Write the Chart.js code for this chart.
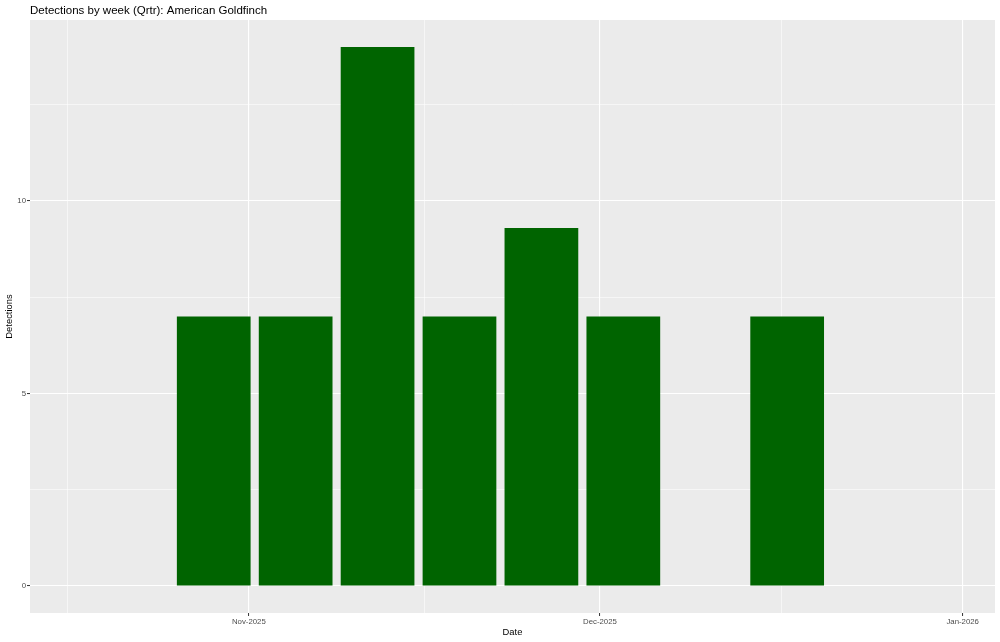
<!DOCTYPE html>
<html>
<head>
<meta charset="utf-8">
<script src="https://cdn.jsdelivr.net/npm/chart.js@4/dist/chart.umd.min.js"></script>
<style>
  html, body { margin: 0; padding: 0; background: #fff; }
  #wrap { width: 1000px; height: 642px; }
</style>
</head>
<body>
<div id="wrap"><canvas id="myChart"></canvas></div>
<script>
// weekly detections
const weeks = ["2025-10-29", "2025-11-05", "2025-11-12", "2025-11-19", "2025-11-26", "2025-12-03", "2025-12-17"];
const detections = [7, 7, 14, 7, 9.3, 7, 7];

// axis ticks
const xTickDates = ["2025-11-01", "2025-12-01", "2026-01-01"];
const xTickLabels = ["Nov-2025", "Dec-2025", "Jan-2026"];
const yTicks = [0, 5, 10];

const origin = Date.parse("2025-11-01");
function day(s) {
  return (Date.parse(s) - origin) / 86400000;
}

const xMajor = xTickDates.map(day);
// minor lines half way between month breaks (Oct 1 .. Feb 1)
const monthEdges = [day("2025-10-01")].concat(xMajor, [day("2026-02-01")]);
const xMinor = [];
for (let i = 0; i < monthEdges.length - 1; i++) xMinor.push((monthEdges[i] + monthEdges[i + 1]) / 2);

const yMinor = [2.5, 7.5, 12.5];

const xMin = -18.7, xMax = 63.76;
const yMin = -0.7, yMax = 14.7;

const panelBg = {
  id: "panelBg",
  beforeDraw(chart) {
    const { ctx, chartArea: a } = chart;
    ctx.save();
    ctx.fillStyle = "#EBEBEB";
    ctx.fillRect(a.left, a.top, a.right - a.left, a.bottom - a.top);
    ctx.restore();
  }
};

const font = "'Liberation Sans', Arial, sans-serif";

new Chart("myChart", {
  type: "bar",
  data: {
    datasets: [{
      data: weeks.map((w, i) => ({ x: day(w), y: detections[i] })),
      backgroundColor: "#006400",
      borderWidth: 0,
      categoryPercentage: 0.9,
      barPercentage: 1.0
    }]
  },
  options: {
    responsive: true,
    maintainAspectRatio: false,
    animation: false,
    devicePixelRatio: 1,
    layout: { padding: { right: 5, top: 0, left: 0, bottom: 0 } },
    plugins: {
      legend: { display: false },
      tooltip: { enabled: false },
      title: {
        display: true,
        text: "Detections by week (Qrtr): American Goldfinch",
        align: "start",
        fullSize: false,
        color: "#000",
        font: { family: font, size: 11.5, weight: "normal", lineHeight: 1.2 },
        padding: { top: 3.5, bottom: 2.7 }
      }
    },
    scales: {
      x: {
        type: "linear",
        min: xMin,
        max: xMax,
        offset: false,
        afterBuildTicks(scale) {
          scale.ticks = xMinor.concat(xMajor)
            .filter(v => v >= xMin && v <= xMax)
            .sort((a, b) => a - b)
            .map(v => ({ value: v }));
        },
        afterFit(scale) { scale.height = 29; },
        ticks: {
          autoSkip: false,
          maxRotation: 0,
          padding: 1,
          color: "#4D4D4D",
          font: { family: font, size: 7.8 },
          callback(v) {
            const i = xMajor.indexOf(v);
            return i >= 0 ? xTickLabels[i] : "";
          }
        },
        grid: {
          offset: false,
          color: "#FFFFFF",
          lineWidth: ctx => xMajor.includes(ctx.tick && ctx.tick.value) ? 1.1 : 0.55,
          tickLength: 3,
          tickColor: ctx => xMajor.includes(ctx.tick && ctx.tick.value) ? "#333333" : "rgba(0,0,0,0)",
          tickWidth: 1
        },
        border: { display: false },
        title: {
          display: true,
          text: "Date",
          color: "#000",
          font: { family: font, size: 9.4, lineHeight: 1.2 },
          padding: { top: 0, bottom: 4 }
        }
      },
      y: {
        min: yMin,
        max: yMax,
        afterBuildTicks(scale) {
          scale.ticks = yMinor.concat(yTicks).sort((a, b) => a - b).map(v => ({ value: v }));
        },
        afterFit(scale) { scale.width = 30; },
        ticks: {
          padding: 1,
          color: "#4D4D4D",
          font: { family: font, size: 7.8 },
          callback(v) {
            return yTicks.includes(v) ? String(v) : "";
          }
        },
        grid: {
          color: "#FFFFFF",
          lineWidth: ctx => yTicks.includes(ctx.tick && ctx.tick.value) ? 1.1 : 0.55,
          tickLength: 3,
          tickColor: ctx => yTicks.includes(ctx.tick && ctx.tick.value) ? "#333333" : "rgba(0,0,0,0)",
          tickWidth: 1
        },
        border: { display: false },
        title: {
          display: true,
          text: "Detections",
          color: "#000",
          font: { family: font, size: 9.4, lineHeight: 1.2 },
          padding: { top: 3.5, bottom: 0 }
        }
      }
    }
  },
  plugins: [panelBg]
});
</script>
</body>
</html>
